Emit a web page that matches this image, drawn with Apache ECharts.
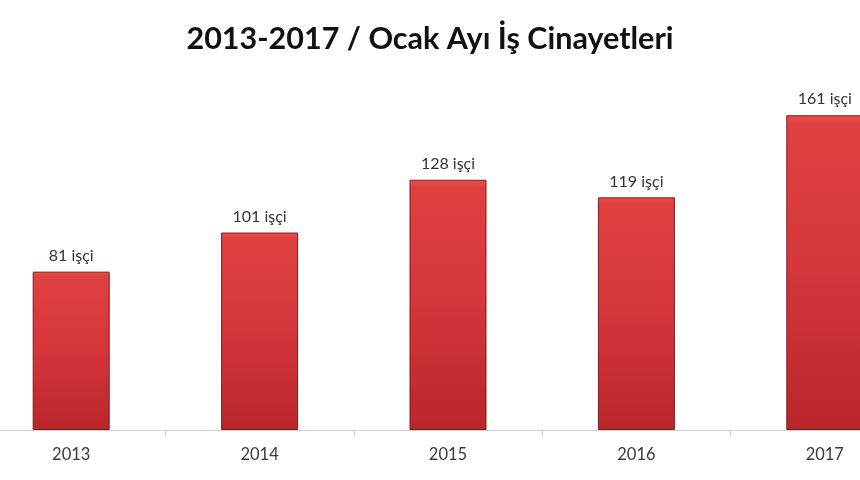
<!DOCTYPE html>
<html><head><meta charset="utf-8">
<script src="https://cdn.jsdelivr.net/npm/echarts@6/dist/echarts.min.js"></script>
<style>html,body{margin:0;padding:0;background:#fff}#c{width:860px;height:480px}</style>
</head><body><div id="c"></div>
<script>
const titleText = '2013-2017 / Ocak Ayı İş Cinayetleri';
const years = ['2013', '2014', '2015', '2016', '2017'];
const workers = [81, 101, 128, 119, 161];
const unit = 'işçi';

const chart = echarts.init(document.getElementById('c'), null, {renderer: 'canvas'});
chart.setOption({
  backgroundColor: '#ffffff',
  animation: false,
  title: {
    text: titleText, left: 'center', top: 19,
    textStyle: {fontFamily: 'Lato', fontWeight: 'bold', fontSize: 30.5, color: '#111'}
  },
  grid: {left: -23, right: -59, top: 39, bottom: 50, outerBoundsMode: 'none', containLabel: false},
  xAxis: {
    type: 'category', data: years,
    axisLine: {lineStyle: {color: '#d0d0d0', width: 1}},
    axisTick: {show: true, length: 6, lineStyle: {color: '#c8c8c8'}},
    axisLabel: {fontFamily: 'Lato', fontSize: 16.5, color: '#3a3a3a', margin: 16}
  },
  yAxis: {type: 'value', min: 0, max: 200, show: false, splitLine: {show: false}},
  series: [{
    type: 'bar', data: workers, barWidth: 77,
    itemStyle: {
      color: new echarts.graphic.LinearGradient(0, 0, 0, 1, [
        {offset: 0, color: '#e8504c'},
        {offset: 0.03, color: '#e0403f'},
        {offset: 0.5, color: '#d4363a'},
        {offset: 1, color: '#b9262a'}
      ]),
      borderColor: '#7e1c1e', borderWidth: 1
    },
    label: {
      show: true, position: 'top', distance: 8,
      formatter: p => p.value + ' ' + unit,
      fontFamily: 'Lato', fontSize: 16, color: '#333'
    }
  }]
});
</script></body></html>
